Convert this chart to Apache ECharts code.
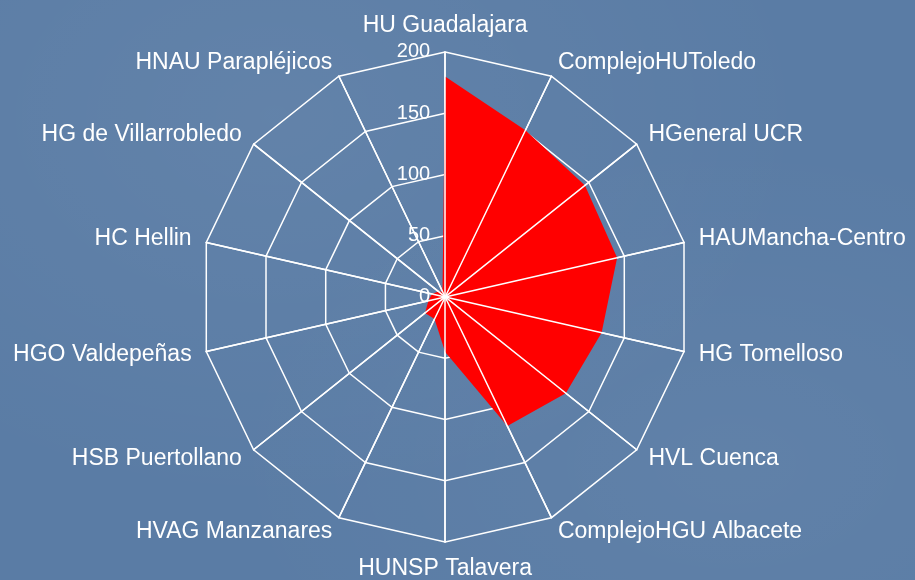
<!DOCTYPE html>
<html>
<head>
<meta charset="utf-8">
<script src="https://cdn.jsdelivr.net/npm/echarts@6/dist/echarts.min.js"></script>
<style>
html,body{margin:0;padding:0;}
#chart{width:915px;height:580px;background:#5a7ca5;
background-image:radial-gradient(ellipse at 30% 20%, rgba(255,255,255,0.05), rgba(0,0,0,0) 60%),radial-gradient(ellipse at 80% 80%, rgba(255,255,255,0.04), rgba(0,0,0,0) 50%);}
</style>
</head>
<body>
<div id="chart"></div>
<script>
// Categories listed clockwise starting at the top
var categories = [
  'HU Guadalajara', 'ComplejoHUToledo', 'HGeneral UCR', 'HAUMancha-Centro',
  'HG Tomelloso', 'HVL Cuenca', 'ComplejoHGU Albacete', 'HUNSP Talavera',
  'HVAG Manzanares', 'HSB Puertollano', 'HGO Valdepeñas', 'HC Hellin',
  'HG de Villarrobledo', 'HNAU Parapléjicos'
];
var values = [180, 151, 146, 144, 131, 126, 117, 45, 20, 21, 14, 11, 7, 5];
var axisMax = 200;
var tickLabels = ['0', '50', '100', '150', '200'];

// ECharts radar runs counter-clockwise: keep first, reverse the rest
function ccw(arr) { return [arr[0]].concat(arr.slice(1).reverse()); }
var cats = ccw(categories);
var vals = ccw(values);

var FONT = "'Liberation Sans', Arial, Helvetica, sans-serif";

var indicatorMain = cats.map(function (c, i) {
  var o = { name: c, max: axisMax, min: 0 };
  if (i === 0) o.axisLabel = { show: true };
  return o;
});
var indicatorTop = cats.map(function (c) { return { name: '', max: axisMax, min: 0 }; });

var chart = echarts.init(document.getElementById('chart'));
var common = {
  center: ['48.65%', '51.2%'],
  radius: 245,
  shape: 'polygon',
  splitNumber: 4
};
chart.setOption({
  animation: false,
  radar: [
    Object.assign({}, common, {
      z: 1,
      indicator: indicatorMain,
      axisName: { color: '#ffffff', fontSize: 23, fontFamily: FONT },
      nameGap: 15,
      axisLine: { lineStyle: { color: '#ffffff', width: 1.5 } },
      splitLine: { lineStyle: { color: '#ffffff', width: 1.5 } },
      splitArea: { show: false },
      axisTick: { show: false },
      axisLabel: {
        show: false, color: '#ffffff', fontSize: 20,
        fontFamily: FONT, margin: 15,
        formatter: function (v) { var s = String(v); return tickLabels.indexOf(s) >= 0 ? s : ''; }
      }
    }),
    Object.assign({}, common, {
      z: 5,
      indicator: indicatorTop,
      axisName: { show: false },
      axisLine: { lineStyle: { color: '#ffffff', width: 1.5 } },
      splitLine: { show: false },
      splitArea: { show: false },
      axisTick: { show: false },
      axisLabel: { show: false }
    })
  ],
  series: [{
    type: 'radar',
    radarIndex: 0,
    z: 3,
    symbol: 'none',
    lineStyle: { width: 0, color: '#ff0000' },
    areaStyle: { color: '#ff0000', opacity: 1 },
    data: [{ value: vals, name: 'Valores' }]
  }]
});
</script>
</body>
</html>
